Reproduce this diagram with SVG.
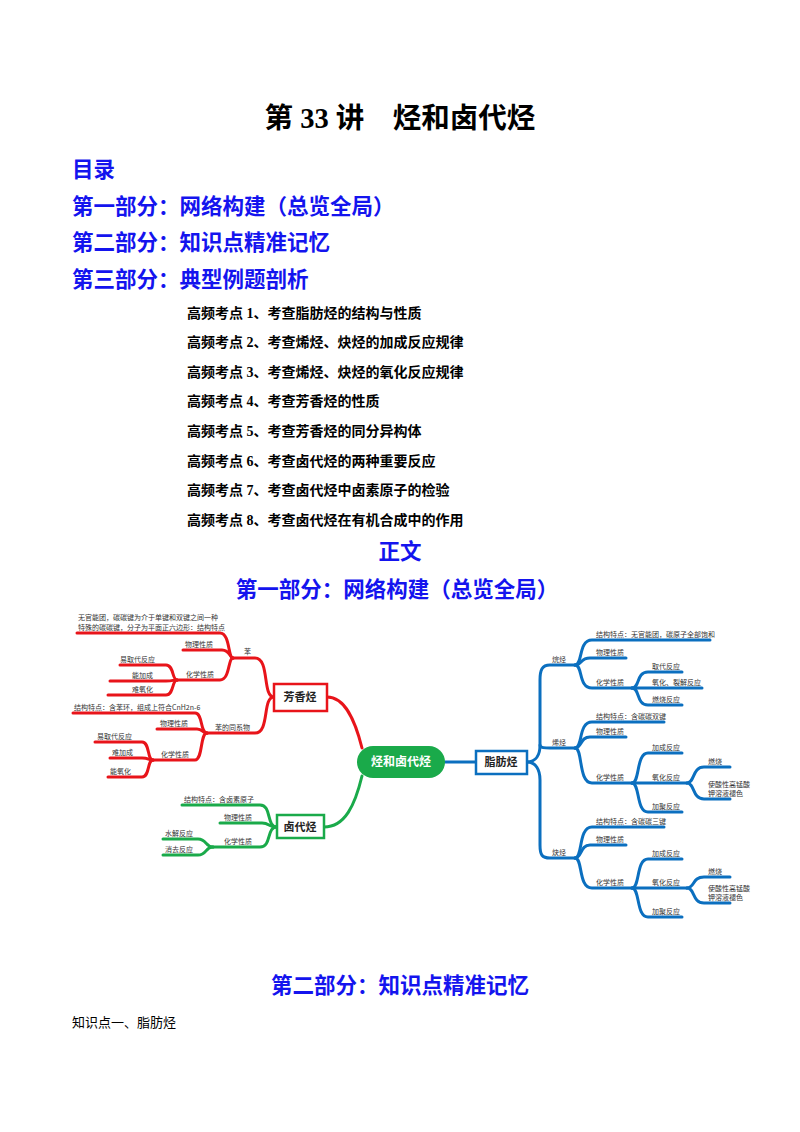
<svg xmlns="http://www.w3.org/2000/svg" width="800" height="1132" viewBox="0 0 800 1132">
<style>
.t{font-family:"Liberation Serif","Noto Sans CJK SC",serif;font-weight:bold}
.h{font-family:"Liberation Serif","Noto Sans CJK SC",serif;font-weight:bold;fill:#1414ee;font-size:21.5px}
.i{font-family:"Liberation Serif","Noto Sans CJK SC",serif;font-weight:bold;font-size:14px;fill:#000}
.s{font-family:"Noto Sans CJK SC",sans-serif;font-size:7px;fill:#333}
.r{fill:none;stroke:#e8141a;stroke-width:3;stroke-linecap:round}
.g{fill:none;stroke:#1aaa4a;stroke-width:3;stroke-linecap:round}
.b{fill:none;stroke:#0b6fbf;stroke-width:3;stroke-linecap:round}
.n{font-family:"Noto Sans CJK SC",sans-serif;font-weight:bold;font-size:11px;fill:#222}
</style>
<rect width="800" height="1132" fill="#fff"/>
<text class="t" x="400" y="128" font-size="28.5" text-anchor="middle">第 33 讲　烃和卤代烃</text>
<text class="h" x="72" y="177">目录</text>
<text class="h" x="72" y="214">第一部分：网络构建（总览全局）</text>
<text class="h" x="72" y="250">第二部分：知识点精准记忆</text>
<text class="h" x="72" y="287">第三部分：典型例题剖析</text>
<text class="i" x="187" y="318">高频考点 1、考查脂肪烃的结构与性质</text>
<text class="i" x="187" y="347">高频考点 2、考查烯烃、炔烃的加成反应规律</text>
<text class="i" x="187" y="377">高频考点 3、考查烯烃、炔烃的氧化反应规律</text>
<text class="i" x="187" y="406">高频考点 4、考查芳香烃的性质</text>
<text class="i" x="187" y="436">高频考点 5、考查芳香烃的同分异构体</text>
<text class="i" x="187" y="466">高频考点 6、考查卤代烃的两种重要反应</text>
<text class="i" x="187" y="495">高频考点 7、考查卤代烃中卤素原子的检验</text>
<text class="i" x="187" y="525">高频考点 8、考查卤代烃在有机合成中的作用</text>
<text class="h" x="400" y="559" text-anchor="middle">正文</text>
<text class="h" x="397" y="597" text-anchor="middle">第一部分：网络构建（总览全局）</text>
<text class="h" x="400" y="993" text-anchor="middle">第二部分：知识点精准记忆</text>
<text x="72" y="1027" font-size="13" font-family="Liberation Serif,Noto Sans CJK SC,serif">知识点一、脂肪烃</text>

<g id="connectors">
<path class="r" d="M362,748 C355,720 345,697 327,697"/>
<path class="g" d="M362,776 C355,805 345,827 324,827"/>
<path class="b" d="M445,762 L476,762"/>
<path class="r" d="M274,697 C262,697 270,658 255,658 L233,658"/>
<path class="r" d="M233,658 C228,658 230,633 220,633 L77,633"/>
<path class="r" d="M233,658 C230,658 230,650 222,650 L183,650"/>
<path class="r" d="M233,658 C228,658 230,680 220,680 L177,680"/>
<path class="r" d="M177,680 C172,680 174,665 166,665 L120,665"/>
<path class="r" d="M177,680 C172,680 174,681 166,681 L110,681"/>
<path class="r" d="M177,680 C172,680 174,695 166,695 L108,695"/>
<path class="r" d="M274,697 C262,697 270,733 255,733 L207,733"/>
<path class="r" d="M207,733 C200,733 203,713 195,713 L73,713"/>
<path class="r" d="M207,733 C202,733 203,729 197,729 L157,729"/>
<path class="r" d="M207,733 C200,733 203,760 195,760 L153,760"/>
<path class="r" d="M153,760 C147,760 150,742 142,742 L95,742"/>
<path class="r" d="M153,760 C148,760 149,758 142,758 L110,758"/>
<path class="r" d="M153,760 C147,760 150,777 142,777 L108,777"/>
<path class="g" d="M277,827 C266,827 272,805 260,805 L182,805"/>
<path class="g" d="M277,827 C268,827 270,823 262,823 L220,823"/>
<path class="g" d="M277,827 C266,827 272,847 260,847 L213,847"/>
<path class="g" d="M213,847 C205,847 207,839 198,839 L163,839"/>
<path class="g" d="M213,847 C205,847 207,855 198,855 L163,855"/>
<path class="b" d="M527,762 C536,762 540,755 540,745 L540,680 C540,670 542,665 550,665 L575,665"/>
<path class="b" d="M540,745 C540,748 545,748 550,748 L575,748"/>
<path class="b" d="M527,762 C536,762 540,770 540,780 L540,845 C540,855 542,858 550,858 L575,858"/>
<path class="b" d="M575,665 C583,665 578,640 592,640 L710,640"/>
<path class="b" d="M575,665 C582,665 580,658 590,658 L626,658"/>
<path class="b" d="M575,665 C583,665 578,688 592,688 L632,688"/>
<path class="b" d="M632,688 C640,688 636,672 648,672 L682,672"/>
<path class="b" d="M632,688 L702,688"/>
<path class="b" d="M632,688 C640,688 636,705 648,705 L682,705"/>
<path class="b" d="M575,748 C583,748 578,722 592,722 L664,722"/>
<path class="b" d="M575,748 C582,748 580,737 590,737 L626,737"/>
<path class="b" d="M575,748 C583,748 578,783 592,783 L632,783"/>
<path class="b" d="M632,783 C640,783 636,753 648,753 L682,753"/>
<path class="b" d="M632,783 L687,783"/>
<path class="b" d="M632,783 C640,783 636,812 648,812 L682,812"/>
<path class="b" d="M687,783 C695,783 692,767 704,767 L730,767"/>
<path class="b" d="M687,783 C695,783 692,799 704,799 L730,799"/>
<path class="b" d="M575,858 C583,858 578,827 592,827 L664,827"/>
<path class="b" d="M575,858 C582,858 580,845 590,845 L626,845"/>
<path class="b" d="M575,858 C583,858 578,888 592,888 L632,888"/>
<path class="b" d="M632,888 C640,888 636,859 648,859 L682,859"/>
<path class="b" d="M632,888 L687,888"/>
<path class="b" d="M632,888 C640,888 636,917 648,917 L682,917"/>
<path class="b" d="M687,888 C695,888 692,877 704,877 L730,877"/>
<path class="b" d="M687,888 C695,888 692,903 704,903 L730,903"/>
</g>

<g id="root"><rect x="357" y="746" width="88" height="32" rx="16" fill="#1aaa4a"/><text x="401" y="766" text-anchor="middle" font-family="Noto Sans CJK SC,sans-serif" font-weight="bold" font-size="12" fill="#fff">烃和卤代烃</text></g>
<g id="fangxiangting"><rect x="274" y="684" width="53" height="27" fill="#fff" stroke="#e8141a" stroke-width="2.5"/><text class="n" x="300" y="701" text-anchor="middle">芳香烃</text></g>
<g id="ludaiting"><rect x="277" y="815" width="47" height="23" fill="#fff" stroke="#1aaa4a" stroke-width="2.5"/><text class="n" x="300" y="831" text-anchor="middle">卤代烃</text></g>
<g id="zhifangting"><rect x="476" y="751" width="51" height="23" fill="#fff" stroke="#0b6fbf" stroke-width="2.5"/><text class="n" x="501" y="766" text-anchor="middle">脂肪烃</text></g>

<g id="labels-red">
<text class="s" x="78" y="620">无官能团，碳碳键为介于单键和双键之间一种</text>
<text class="s" x="78" y="630">特殊的碳碳键，分子为平面正六边形：结构特点</text>
<text class="s" x="185" y="647">物理性质</text>
<text class="s" x="244" y="654">苯</text>
<text class="s" x="120" y="662">易取代反应</text>
<text class="s" x="186" y="677">化学性质</text>
<text class="s" x="132" y="678">能加成</text>
<text class="s" x="132" y="692">难氧化</text>
<text class="s" x="74" y="710">结构特点：含苯环，组成上符合CnH2n-6</text>
<text class="s" x="160" y="726">物理性质</text>
<text class="s" x="215" y="730">苯的同系物</text>
<text class="s" x="97" y="739">易取代反应</text>
<text class="s" x="161" y="757">化学性质</text>
<text class="s" x="112" y="755">难加成</text>
<text class="s" x="110" y="774">能氧化</text>
</g>
<g id="labels-green">
<text class="s" x="184" y="802">结构特点：含卤素原子</text>
<text class="s" x="224" y="820">物理性质</text>
<text class="s" x="224" y="844">化学性质</text>
<text class="s" x="165" y="836">水解反应</text>
<text class="s" x="165" y="852">消去反应</text>
</g>
<g id="labels-blue">
<text class="s" x="552" y="662">烷烃</text>
<text class="s" x="596" y="637">结构特点：无官能团，碳原子全部饱和</text>
<text class="s" x="596" y="655">物理性质</text>
<text class="s" x="596" y="685">化学性质</text>
<text class="s" x="652" y="669">取代反应</text>
<text class="s" x="652" y="685">氧化、裂解反应</text>
<text class="s" x="652" y="702">燃烧反应</text>
<text class="s" x="552" y="745">烯烃</text>
<text class="s" x="596" y="719">结构特点：含碳碳双键</text>
<text class="s" x="596" y="734">物理性质</text>
<text class="s" x="596" y="780">化学性质</text>
<text class="s" x="652" y="750">加成反应</text>
<text class="s" x="652" y="780">氧化反应</text>
<text class="s" x="652" y="809">加聚反应</text>
<text class="s" x="708" y="764">燃烧</text>
<text class="s" x="708" y="787">使酸性高锰酸</text>
<text class="s" x="708" y="796">钾溶液褪色</text>
<text class="s" x="552" y="855">炔烃</text>
<text class="s" x="596" y="824">结构特点：含碳碳三键</text>
<text class="s" x="596" y="842">物理性质</text>
<text class="s" x="596" y="885">化学性质</text>
<text class="s" x="652" y="856">加成反应</text>
<text class="s" x="652" y="885">氧化反应</text>
<text class="s" x="652" y="914">加聚反应</text>
<text class="s" x="708" y="874">燃烧</text>
<text class="s" x="708" y="891">使酸性高锰酸</text>
<text class="s" x="708" y="900">钾溶液褪色</text>
</g>
</svg>
